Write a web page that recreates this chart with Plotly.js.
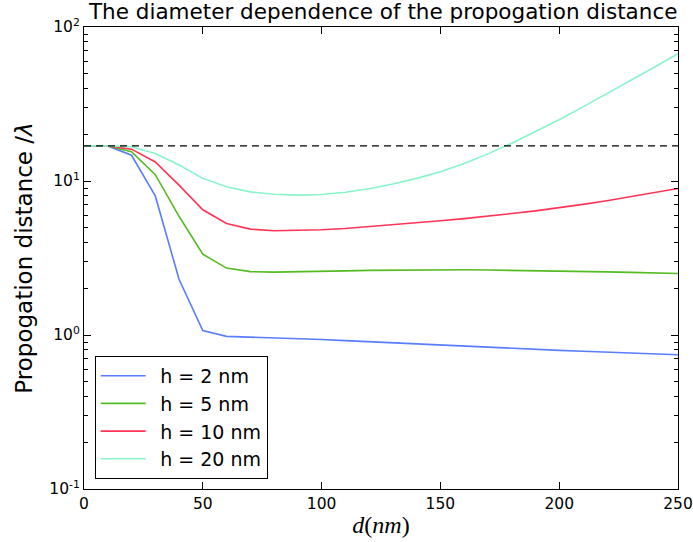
<!DOCTYPE html>
<html>
<head>
<meta charset="utf-8">
<script src="https://cdn.plot.ly/plotly-3.0.1.min.js"></script>
<style>html,body{margin:0;padding:0;background:#fff;}#chart{width:693px;height:542px;}</style>
</head>
<body>
<div id="chart"></div>
<script>
const diameter = [0,10,20,30,40,50,60,70,80,90,100,110,120,130,140,150,160,170,180,190,200,210,220,230,240,250];
const h2  = [16.9,16.9,14.7,8.0,2.3,1.07,0.98,0.97,0.96,0.95,0.935,0.92,0.905,0.89,0.875,0.86,0.845,0.83,0.815,0.805,0.795,0.785,0.775,0.765,0.755,0.745];
const h5  = [16.9,16.9,15.5,11.0,5.9,3.35,2.72,2.58,2.56,2.57,2.59,2.61,2.63,2.64,2.65,2.65,2.65,2.64,2.63,2.62,2.61,2.59,2.57,2.55,2.53,2.51];
const h10 = [16.9,16.9,16.1,13.3,9.4,6.5,5.3,4.87,4.75,4.76,4.82,4.92,5.05,5.2,5.36,5.52,5.7,5.9,6.15,6.4,6.7,7.05,7.45,7.9,8.4,8.95];
const h20 = [16.9,16.9,16.7,15.1,12.7,10.4,9.18,8.5,8.2,8.1,8.18,8.45,8.9,9.55,10.4,11.5,13.0,15.0,17.6,20.9,25.0,30.3,36.8,44.8,54.8,67.0];
const limitX = [0,250];
const limitY = [16.9,16.9];
const seriesNames = ["h = 2 nm","h = 5 nm","h = 10 nm","h = 20 nm"];
const yTickVals = [0.1,1,10,100];
const yTickText = ["10<sup>-1</sup>","10<sup>0</sup>","10<sup>1</sup>","10<sup>2</sup>"];
const xTickVals = [0,50,100,150,200,250];

const colors = ["#5a7dff","#55bb22","#ff3355","#88f5c8"];
const series = [h2,h5,h10,h20];
const traces = series.map((s,i)=>({
  x: diameter, y: s, type:'scatter', mode:'lines', name: '\u2002' + seriesNames[i],
  line:{color:colors[i], width:1.6}
}));
traces.push({x:limitX, y:limitY, type:'scatter', mode:'lines', showlegend:false,
  line:{color:'#000', width:1.2, dash:'7px,5px'}});

const layout = {
  width:693, height:542,
  margin:{l:84,r:15,t:27,b:53},
  paper_bgcolor:'#fff', plot_bgcolor:'#fff',
  font:{family:'DejaVu Sans', color:'#000'},
  title:{text:'The diameter dependence of the propogation distance', font:{size:21.5, family:'DejaVu Sans'}, x:0.553, xanchor:'center', y:0.978, yanchor:'middle'},
  xaxis:{range:[0,250], tickvals:xTickVals, ticks:'inside', ticklen:7, tickcolor:'#000', mirror:'ticks',
    showline:true, linecolor:'#000', linewidth:1, showgrid:false, zeroline:false,
    tickfont:{size:15.5}, title:{text:'<i>d</i>(<i>nm</i>)', font:{size:24, family:'Liberation Serif'}, standoff:4}},
  yaxis:{type:'log', range:[-1,2], tickvals:yTickVals, ticktext:yTickText, ticks:'inside', ticklen:7, tickcolor:'#000',
    mirror:'ticks', showline:true, linecolor:'#000', linewidth:1, showgrid:false, zeroline:false,
    tickfont:{size:15.5},
    minor:{ticks:'inside', ticklen:4, tickcolor:'#000', dtick:'D1', showgrid:false},
    title:{text:'Propogation distance /<i>λ</i>', font:{size:23}, standoff:10}},
  legend:{x:0.018, y:0.022, xanchor:'left', yanchor:'bottom', bgcolor:'#fff', bordercolor:'#000', borderwidth:1,
    font:{size:19}, itemwidth:45, tracegroupgap:0}
};
Plotly.newPlot('chart', traces, layout, {displayModeBar:false, staticPlot:true});
</script>
</body>
</html>
